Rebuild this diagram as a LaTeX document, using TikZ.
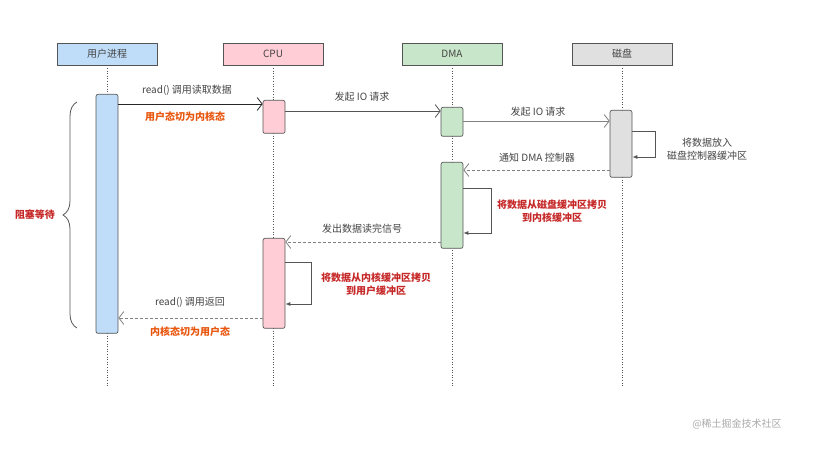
\documentclass[tikz,border=0pt]{standalone}
\usepackage{fontspec}
\setmainfont{Noto Sans CJK SC}
\usetikzlibrary{arrows.meta,decorations.pathreplacing,calc}
\definecolor{ublue}{HTML}{BFDDF8}
\definecolor{cpink}{HTML}{FFCDD6}
\definecolor{dgreen}{HTML}{C8E6C9}
\definecolor{dgray}{HTML}{E0E0E0}
\definecolor{edge}{HTML}{555555}
\definecolor{txt}{HTML}{444444}
\definecolor{orng}{HTML}{E8560E}
\definecolor{redl}{HTML}{C62828}
\definecolor{wm}{HTML}{AAAAAA}
\begin{document}
\begin{tikzpicture}[x=1pt,y=-1pt,font=\fontsize{10}{12}\selectfont,
  head/.style={draw=edge,line width=0.7pt,minimum width=100pt,minimum height=22pt,inner sep=0pt,text=txt},
  bar/.style={draw=edge,line width=0.7pt,rounded corners=2pt,minimum width=22pt,inner sep=0pt,anchor=north},
  life/.style={draw=edge,line width=0.9pt,dash pattern=on 1pt off 1.6pt},
  msg/.style={draw=#1,line width=0.8pt,-{Straight Barb[length=5pt,width=13pt]}},
  msg/.default={edge},
  ret/.style={draw=gray,line width=0.8pt,dash pattern=on 3pt off 2pt,-{Straight Barb[length=5pt,width=13pt]}},
  selfloop/.style={draw=edge,line width=0.8pt,-{Latex[length=5pt,width=4pt]}},
  lbl/.style={text=txt,inner sep=0pt},
  olbl/.style={text=orng,inner sep=0pt,font=\fontsize{10}{12}\selectfont\bfseries},
  rlbl/.style={text=redl,inner sep=0pt,align=center,font=\fontsize{10}{13.5}\selectfont\bfseries},
  glbl/.style={text=txt,inner sep=0pt,align=center,font=\fontsize{10}{13.5}\selectfont}]
\useasboundingbox (0,0) rectangle (825,470);
% headers
\node[head,fill=ublue] (hu) at (107,54) {用户进程};
\node[head,fill=cpink] (hc) at (273,54) {CPU};
\node[head,fill=dgreen] (hd) at (452,54) {DMA};
\node[head,fill=dgray] (hk) at (622,54) {磁盘};
% lifeline ends
\coordinate (eu) at (107,386);
\coordinate (ec) at (273,386);
\coordinate (ed) at (452,386);
\coordinate (ek) at (622,386);
\draw[life] (hu.south) -- (eu);
\draw[life] (hc.south) -- (ec);
\draw[life] (hd.south) -- (ed);
\draw[life] (hk.south) -- (ek);
% activation bars
\node[bar,fill=ublue,minimum height=239pt] (u1) at (107,94) {};
\node[bar,fill=cpink,minimum height=33pt] (c1) at (274,100) {};
\node[bar,fill=dgreen,minimum height=29pt] (d1) at (452,107) {};
\node[bar,fill=dgray,minimum height=67pt] (k1) at (621,110) {};
\node[bar,fill=dgreen,minimum height=86pt] (d2) at (452,162) {};
\node[bar,fill=cpink,minimum height=90pt] (c2) at (274,238) {};
% messages
\draw[msg={black!85}] (u1.east |- 0,104) -- (c1.west |- 0,104);
\node[lbl] (l1) at (187,90) {read() 调用读取数据};
\node[olbl] (l1b) at (185,117) {用户态切为内核态};
\draw[msg] (c1.east |- 0,111) -- (d1.west |- 0,111);
\node[lbl] (l2) at (362,97) {发起 IO 请求};
\draw[msg={gray}] (d1.east |- 0,121) -- (k1.west |- 0,121);
\node[lbl] (l3) at (538,112) {发起 IO 请求};
\draw[selfloop] (k1.east |- 0,131) -- ++(23,0) |- (k1.east |- 0,157);
\node[glbl] (l4) at (707,149) {将数据放入\\磁盘控制器缓冲区};
\draw[ret] (k1.west |- 0,170) -- (d2.east |- 0,170);
\node[lbl] (l5) at (537,158) {通知 DMA 控制器};
\draw[selfloop] (d2.east |- 0,188) -- ++(28,0) |- (d2.east |- 0,233);
\node[rlbl] (l6) at (552,211) {将数据从磁盘缓冲区拷贝\\到内核缓冲区};
\draw[ret] (d2.west |- 0,242) -- (c2.east |- 0,242);
\node[lbl] (l7) at (362,229) {发出数据读完信号};
\draw[selfloop] (c2.east |- 0,262) -- ++(26,0) |- (c2.east |- 0,304);
\node[rlbl] (l8) at (376,284) {将数据从内核缓冲区拷贝\\到用户缓冲区};
\draw[ret] (c2.west |- 0,318) -- (u1.east |- 0,318);
\node[lbl] (l9) at (190,302) {read() 调用返回};
\node[olbl] (l9b) at (190,332) {内核态切为用户态};
% brace
\draw[draw=edge,line width=0.8pt,decorate,decoration={brace,amplitude=14pt,aspect=0.5}]
  (77,328) -- (77,102);
\node[text=redl,inner sep=0pt,font=\fontsize{10}{12}\selectfont\bfseries] (lw) at (35,215) {阻塞等待};
% watermark
\node[text=wm,inner sep=0pt] (wmk) at (737,424) {@稀土掘金技术社区};
\end{tikzpicture}
\end{document}
